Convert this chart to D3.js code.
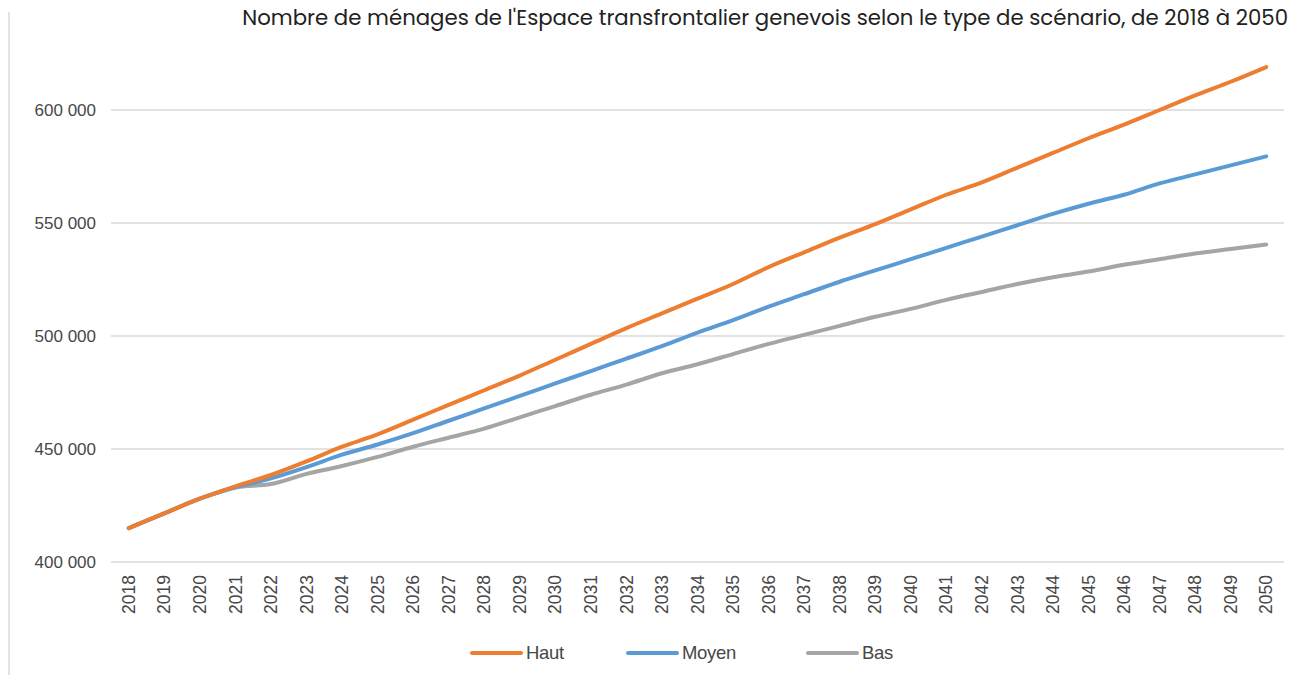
<!DOCTYPE html>
<html>
<head>
<meta charset="utf-8">
<script src="https://cdn.jsdelivr.net/npm/d3@7"></script>
<style>
  body { margin: 0; background: #fff; }
  .tick text { font-family: "Liberation Sans", Arial, sans-serif; fill: #474747; }
</style>
</head>
<body>
<div id="chart"></div>
<script>
var years = d3.range(2018, 2051).map(String);
var haut = [415000, 421500, 428000, 433500, 438500, 444500, 451000, 456500, 463000, 469500, 476000,
    482500, 489500, 496500, 503500, 510000, 516500, 523000, 530500, 537000, 543500, 549500,
    556000, 562500, 568000, 574500, 581000, 587500, 593500, 600000, 606500, 612500, 619000];
var moyen = [415000, 421500, 428000, 433000, 437000, 442000, 447500, 452000, 457000, 462500, 468000,
    473500, 479000, 484500, 490000, 495500, 501500, 507000, 513000, 518500, 524000, 529000,
    534000, 539000, 544000, 549000, 554000, 558500, 562500, 567500, 571500, 575500, 579500];
var bas = [415000, 421500, 428000, 433000, 434500, 439000, 442500, 446500, 451000, 455000, 459000,
    464000, 469000, 474000, 478500, 483500, 487500, 492000, 496500, 500500, 504500, 508500,
    512000, 516000, 519500, 523000, 526000, 528500, 531500, 534000, 536500, 538500, 540500];
var yTicks = [400000, 450000, 500000, 550000, 600000];
var seriesNames = ["Haut", "Moyen", "Bas"];
var colors = ["#ED7D31", "#5B9BD5", "#A5A5A5"];
var titre = "Nombre de ménages de l'Espace transfrontalier genevois selon le type de scénario, de 2018 à 2050";

var W = 1294, H = 675;
var svg = d3.select("#chart").append("svg")
    .attr("width", W)
    .attr("height", H);

// trait vertical à gauche
svg.append("line")
    .attr("x1", 9).attr("x2", 9)
    .attr("y1", 12).attr("y2", H)
    .attr("stroke", "#e3e3e3")
    .attr("stroke-width", 2);

// titre
var t = svg.append("text")
    .attr("x", 1288)
    .attr("y", 25)
    .attr("text-anchor", "end")
    .style("font-family", "Poppins, 'Open Sans', sans-serif")
    .style("font-size", "17px")
    .style("fill", "#222")
    .text(titre);
var tl = t.node().getComputedTextLength();
t.style("font-size", (17 * 1046 / tl) + "px");

var x = d3.scaleBand()
    .domain(years)
    .range([111, 1284]);

var y = d3.scaleLinear()
    .domain([400000, 600000])
    .range([562, 110]);

var fmt = function (d) { return d3.format(",")(d).replace(/,/g, " "); };

// grille
svg.append("g")
    .selectAll("line")
    .data(yTicks)
    .enter().append("line")
    .attr("x1", 111)
    .attr("x2", 1284)
    .attr("y1", function (d) { return y(d); })
    .attr("y2", function (d) { return y(d); })
    .attr("stroke", "#d9d9d9")
    .attr("stroke-width", 1.5);

// axe y
var yAxis = svg.append("g")
    .attr("transform", "translate(111,0)")
    .call(d3.axisLeft(y).tickValues(yTicks).tickFormat(fmt).tickSize(0).tickPadding(15));
yAxis.select(".domain").remove();
yAxis.selectAll("text").style("font-size", "17px");

// axe x
var xAxis = svg.append("g")
    .attr("transform", "translate(0,562)")
    .call(d3.axisBottom(x).tickSize(0));
xAxis.select(".domain").remove();
xAxis.selectAll("text")
    .attr("transform", "rotate(-90)")
    .attr("x", -13)
    .attr("y", 0)
    .attr("dy", "0.35em")
    .style("font-size", "17.5px")
    .style("text-anchor", "end");

// courbes
var allSeries = [haut, moyen, bas];
var line = d3.line()
    .x(function (d, i) { return x(years[i]) + x.bandwidth() / 2; })
    .y(function (d) { return y(d); })
    .curve(d3.curveMonotoneX);

svg.selectAll(".serie")
    .data(allSeries.slice().reverse())
    .enter().append("path")
    .attr("class", "serie")
    .attr("fill", "none")
    .attr("stroke", function (d, i) { return colors[2 - i]; })
    .attr("stroke-width", 4)
    .attr("stroke-linecap", "round")
    .attr("stroke-linejoin", "round")
    .attr("d", line);

// légende
var legendX = [472, 628, 808];
var leg = svg.append("g").selectAll("g")
    .data(seriesNames)
    .enter().append("g")
    .attr("transform", function (d, i) { return "translate(" + legendX[i] + ",653)"; });
leg.append("line")
    .attr("x1", 0).attr("x2", 49)
    .attr("stroke", function (d, i) { return colors[i]; })
    .attr("stroke-width", 4)
    .attr("stroke-linecap", "round");
leg.append("text")
    .attr("x", 54)
    .attr("dy", "0.35em")
    .style("font-family", "'Liberation Sans', Arial, sans-serif")
    .style("font-size", "18.5px")
    .style("fill", "#474747")
    .style("letter-spacing", "-0.3px")
    .text(function (d) { return d; });
</script>
</body>
</html>
